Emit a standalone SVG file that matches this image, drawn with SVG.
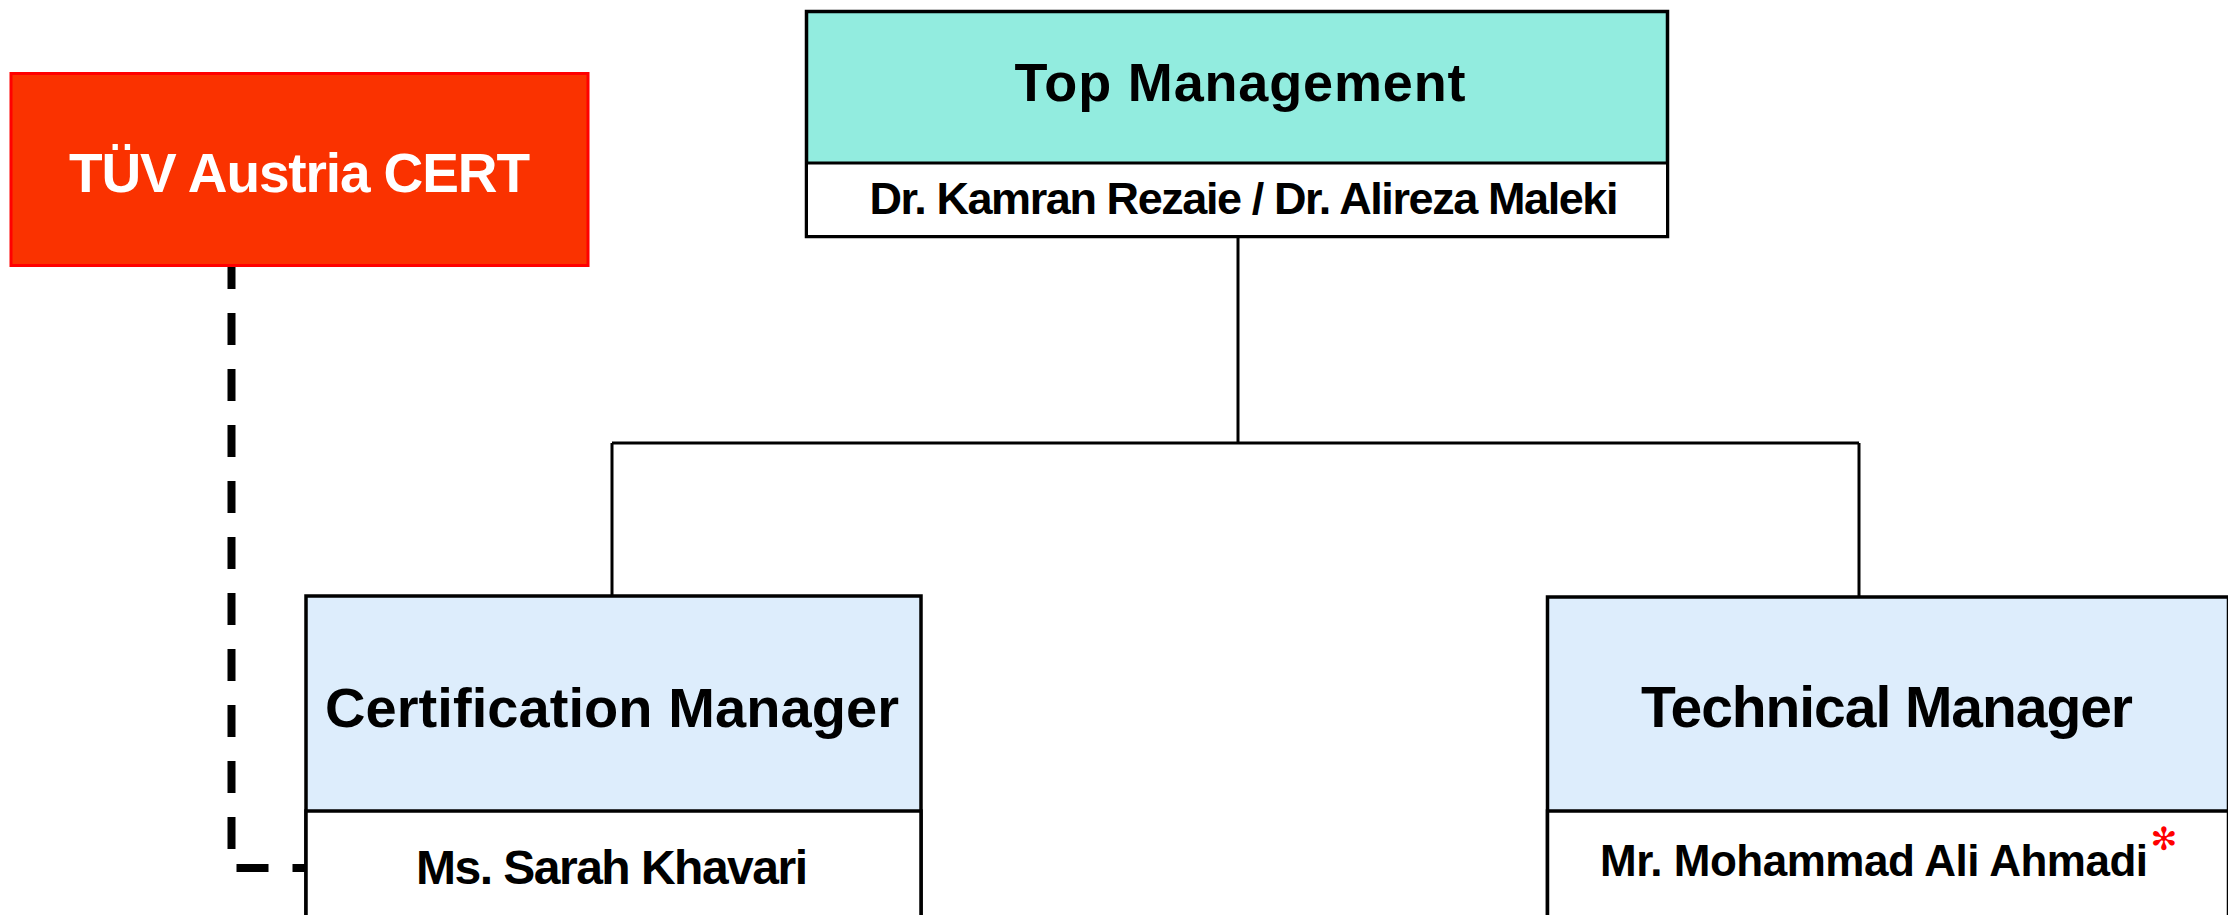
<svg xmlns="http://www.w3.org/2000/svg" width="2228" height="915" viewBox="0 0 2228 915">
<style>
  .t { font-family: "Liberation Sans", Arial, sans-serif; font-weight: bold; text-anchor: middle; fill: #000; }
  .box { stroke: #000; stroke-width: 3.5; }
  .conn { stroke: #000; stroke-width: 3; fill: none; }
</style>
<rect x="0" y="0" width="2228" height="915" fill="#fff"/>
<g id="connectors">
  <path class="conn" d="M1238,238 V443"/>
  <path class="conn" d="M612,443 H1859"/>
  <path class="conn" d="M612,443 V595"/>
  <path class="conn" d="M1859,443 V596"/>
  <path d="M231.5,257 V868 H305" fill="none" stroke="#000" stroke-width="8" stroke-dasharray="32 24"/>
</g>
<g id="tuv">
  <rect x="11" y="73.5" width="577" height="192" fill="#FA3200" stroke="#FF0000" stroke-width="3"/>
  <text class="t" x="299.5" y="192" font-size="55" textLength="461" style="fill:#fff">TÜV Austria CERT</text>
</g>
<g id="top-management">
  <rect class="box" x="806.5" y="11.5" width="861" height="225" fill="#92ECDF" stroke-width="3"/>
  <rect x="806.5" y="163" width="861" height="73.5" fill="#fff" stroke="#000" stroke-width="3"/>
  <text class="t" x="1240" y="101" font-size="54" textLength="451">Top Management</text>
  <text class="t" x="1244" y="214" font-size="45" textLength="749">Dr. Kamran Rezaie / Dr. Alireza Maleki</text>
</g>
<g id="certification-manager">
  <rect class="box" x="306" y="596" width="615" height="340" fill="#DDEDFC"/>
  <rect class="box" x="306" y="811" width="615" height="125" fill="#fff"/>
  <text class="t" x="612" y="727" font-size="56" textLength="574">Certification Manager</text>
  <text class="t" x="612" y="884" font-size="48" textLength="392">Ms. Sarah Khavari</text>
</g>
<g id="technical-manager">
  <rect class="box" x="1547.5" y="597" width="681" height="340" fill="#DDEDFC"/>
  <rect class="box" x="1547.5" y="811" width="681" height="125" fill="#fff"/>
  <text class="t" x="1887" y="727" font-size="57" textLength="492">Technical Manager</text>
  <text class="t" x="1874" y="876" font-size="44" textLength="548">Mr. Mohammad Ali Ahmadi</text>
  <text x="2164" y="850" font-family="DejaVu Sans, sans-serif" font-size="32" text-anchor="middle" fill="#FF0000">✻</text>
</g>
</svg>
